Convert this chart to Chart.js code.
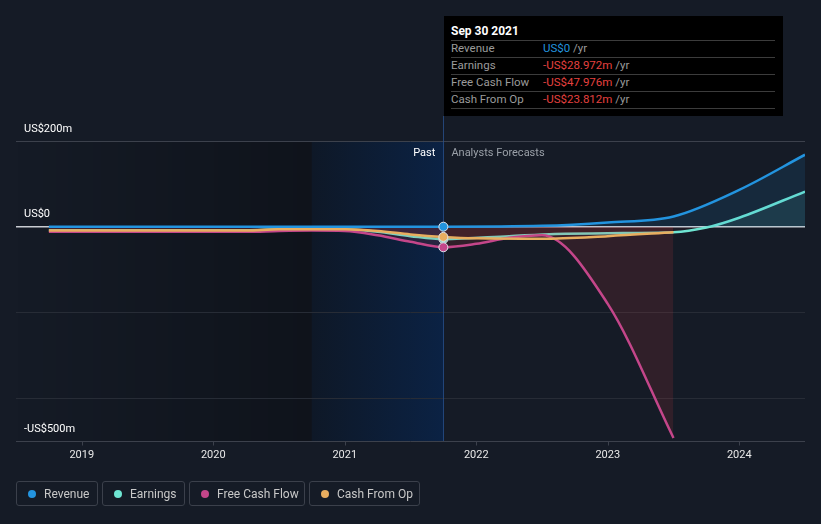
<!DOCTYPE html>
<html>
<head>
<meta charset="utf-8">
<script src="https://cdn.jsdelivr.net/npm/chart.js@4"></script>
<style>
  html, body { margin:0; padding:0; background:#151b26; }
  #wrap { position:relative; width:821px; height:524px; overflow:hidden; background:#151b26; font-family: Roboto, "Noto Sans", sans-serif; }
  canvas { position:absolute; left:0; top:0; }
  .tip { position:absolute; left:444px; top:16px; width:339px; height:100px; background:#000; }
  .tip .t { position:absolute; left:7px; top:6px; color:#fff; font-weight:bold; font-size:12px; line-height:18px; }
  .tip .sep { position:absolute; left:7px; width:324px; height:1px; background:#3c3c3c; }
  .tip .lab { position:absolute; left:7px; color:#9b9b9b; font-size:11.5px; line-height:16px; }
  .tip .val { position:absolute; left:99px; font-size:11.5px; line-height:16px; color:#9b9b9b; white-space:nowrap; }
  .pos { color:#2394df; } .neg { color:#e5413f; }
  .lg { position:absolute; top:481px; height:25px; border:1px solid #3b404b; border-radius:3px; box-sizing:border-box; }
  .lg .d { position:absolute; left:11px; top:8px; width:8px; height:8px; border-radius:50%; }
  .lg .x { position:absolute; left:27px; top:0; line-height:24px; font-size:12px; color:#c8c8c8; white-space:nowrap; }
</style>
</head>
<body>
<div id="wrap">
  <canvas id="c" width="821" height="524"></canvas>
  <div class="tip" id="tip"></div>
  <div id="legend"></div>
</div>
<script>
// ---------- data (US$ millions) ----------
const seriesNames = ["Revenue", "Earnings", "Free Cash Flow", "Cash From Op"];
const seriesColors = ["#2394df", "#6ee5d2", "#c4468a", "#e8ad5f"];

const revenueX = [2018.75,2019.0,2019.25,2019.5,2019.75,2020.0,2020.25,2020.5,2020.75,2021.0,2021.25,2021.5,2021.75,2022.5,2023.0,2023.5,2024.0,2024.5];
const revenueY = [0,0,0,0,0,0,0,0,0,0,0,0,0,2,10,24,86,168];

const earningsX = [2018.75,2019.0,2019.25,2019.5,2019.75,2020.0,2020.25,2020.5,2020.75,2021.0,2021.25,2021.5,2021.75,2022.25,2022.6,2023.0,2023.5,2023.75,2024.0,2024.5];
const earningsY = [-8,-8,-8,-8,-8,-8,-8,-6,-6,-6,-12,-22,-28.972,-22,-17,-15,-13,-2,21,82];

const fcfX = [2018.75,2019.0,2019.25,2019.5,2019.75,2020.0,2020.25,2020.5,2020.75,2021.0,2021.25,2021.5,2021.75,2022.0,2022.25,2022.5,2023.0,2023.5];
const fcfY = [-12,-12,-12,-12,-12,-12,-12,-10,-9,-10,-20,-35,-47.976,-40,-26,-20,-180,-493];

const cfoX = [2018.75,2019.0,2019.25,2019.5,2019.75,2020.0,2020.25,2020.5,2020.75,2021.0,2021.25,2021.5,2021.75,2022.0,2022.5,2023.0,2023.5];
const cfoY = [-9,-9,-9,-9,-9,-9,-9,-6,-6,-6,-10,-18,-23.812,-27,-28,-22,-13];

const yearTicks = [2019, 2020, 2021, 2022, 2023, 2024];
const yGrid = [200, -200, -400];
const yLabels = [[200, "US$200m"], [0, "US$0"], [-500, "-US$500m"]];
const markerX = 2021.75;      // Sep 30 2021
const lastYearStart = 2020.75;

const tipTitle = "Sep 30 2021";
const tipRows = [
  ["Revenue", "US$0", "pos"],
  ["Earnings", "-US$28.972m", "neg"],
  ["Free Cash Flow", "-US$47.976m", "neg"],
  ["Cash From Op", "-US$23.812m", "neg"]
];
const legendBoxes = [[16, 82], [102, 83], [189, 116], [309, 111]];

// ---------- helpers ----------
const pts = (xs, ys) => xs.map((x, i) => ({ x, y: ys[i] }));
const red = a => `rgba(230,65,65,${a})`;

function ds(i, xs, ys, above, below) {
  return {
    label: seriesNames[i],
    data: pts(xs, ys),
    borderColor: seriesColors[i],
    borderWidth: 2.5,
    cubicInterpolationMode: 'monotone',
    fill: { target: 'origin', above, below },
    pointRadius: c => (c.raw && c.raw.x === markerX) ? 4.5 : 0,
    pointBackgroundColor: seriesColors[i],
    pointBorderColor: '#dfe3ea',
    pointBorderWidth: 1,
    pointHoverRadius: 0
  };
}

const bgPlugin = {
  id: 'bg',
  beforeDatasetsDraw(chart) {
    const { ctx, chartArea: a, scales: { x, y } } = chart;
    ctx.save();
    const xs = x.getPixelForValue(lastYearStart), xm = x.getPixelForValue(markerX);
    let g = ctx.createLinearGradient(a.left, 0, xs, 0);
    g.addColorStop(0, 'rgba(0,0,0,0)'); g.addColorStop(1, 'rgba(0,0,0,0.28)');
    ctx.fillStyle = g; ctx.fillRect(a.left, a.top, xs - a.left, a.bottom - a.top);
    g = ctx.createLinearGradient(xs, 0, xm, 0);
    g.addColorStop(0, '#0e1827'); g.addColorStop(1, '#0b2244');
    ctx.fillStyle = g; ctx.fillRect(xs, a.top, xm - xs, a.bottom - a.top);
    // grid
    ctx.lineWidth = 1;
    yGrid.forEach(v => {
      const py = Math.round(y.getPixelForValue(v)) + 0.5;
      ctx.strokeStyle = v === 200 ? '#3c414c' : '#272c36';
      ctx.beginPath(); ctx.moveTo(a.left, py); ctx.lineTo(a.right, py); ctx.stroke();
    });
    // bottom axis + ticks
    const pb = Math.round(y.getPixelForValue(-500)) + 0.5;
    ctx.strokeStyle = '#3c414c';
    ctx.beginPath(); ctx.moveTo(a.left, pb); ctx.lineTo(a.right, pb); ctx.stroke();
    yearTicks.forEach(t => {
      const px = Math.round(x.getPixelForValue(t)) + 0.5;
      ctx.beginPath(); ctx.moveTo(px, pb); ctx.lineTo(px, pb + 4); ctx.stroke();
    });
    // zero line
    const p0 = y.getPixelForValue(0);
    ctx.strokeStyle = '#c9ccd2'; ctx.lineWidth = 1.5;
    ctx.beginPath(); ctx.moveTo(a.left, p0); ctx.lineTo(a.right, p0); ctx.stroke();
    // marker line
    ctx.strokeStyle = 'rgba(40,80,140,0.8)'; ctx.lineWidth = 1;
    ctx.beginPath(); ctx.moveTo(Math.round(xm) + 0.5, 116); ctx.lineTo(Math.round(xm) + 0.5, a.bottom); ctx.stroke();
    ctx.restore();
  },
  afterDatasetsDraw(chart) {
    const { ctx, chartArea: a, scales: { x, y } } = chart;
    ctx.save();
    ctx.font = '11px Roboto, "Noto Sans", sans-serif';
    ctx.textBaseline = 'middle';
    ctx.fillStyle = '#ffffff'; ctx.textAlign = 'left';
    yLabels.forEach(([v, s]) => ctx.fillText(s, 24, y.getPixelForValue(v) - 12));
    ctx.textAlign = 'center'; ctx.fillStyle = '#e8e8e8';
    yearTicks.forEach(t => ctx.fillText(String(t), x.getPixelForValue(t), 455));
    const xm = x.getPixelForValue(markerX);
    ctx.textAlign = 'right'; ctx.fillStyle = '#ffffff';
    ctx.fillText('Past', xm - 8, a.top + 12);
    ctx.textAlign = 'left'; ctx.fillStyle = '#9aa0a8';
    ctx.fillText('Analysts Forecasts', xm + 8, a.top + 12);
    ctx.restore();
  }
};

new Chart(document.getElementById('c'), {
  type: 'line',
  data: {
    datasets: [
      ds(0, revenueX, revenueY, 'rgba(35,148,223,0.12)', 'rgba(0,0,0,0)'),
      ds(3, cfoX, cfoY, 'rgba(232,173,95,0.08)', red(0.05)),
      ds(2, fcfX, fcfY, 'rgba(196,70,138,0.1)', red(0.13)),
      ds(1, earningsX, earningsY, 'rgba(110,229,210,0.1)', red(0.05))
    ]
  },
  options: {
    responsive: false, animation: false, devicePixelRatio: 1,
    layout: { padding: { left: 16, right: 16, top: 141, bottom: 83 } },
    scales: {
      x: { type: 'linear', min: 2018.5, max: 2024.5, display: false },
      y: { min: -500, max: 200, display: false }
    },
    plugins: { legend: { display: false }, tooltip: { enabled: false } },
    events: []
  },
  plugins: [bgPlugin]
});

// tooltip (HTML)
const tip = document.getElementById('tip');
let html = `<div class="t">${tipTitle}</div>`;
[24, 41, 58, 75, 92].forEach(t => html += `<div class="sep" style="top:${t}px"></div>`);
tipRows.forEach((r, i) => {
  const top = 24 + i * 17;
  html += `<div class="lab" style="top:${top}px">${r[0]}</div>`;
  html += `<div class="val" style="top:${top}px"><span class="${r[2]}">${r[1]}</span> /yr</div>`;
});
tip.innerHTML = html;

// legend (HTML)
const lg = document.getElementById('legend');
legendBoxes.forEach(([l, w], i) => {
  const d = document.createElement('div');
  d.className = 'lg'; d.style.left = l + 'px'; d.style.width = w + 'px';
  d.innerHTML = `<span class="d" style="background:${seriesColors[i]}"></span><span class="x">${seriesNames[i]}</span>`;
  lg.appendChild(d);
});
</script>
</body>
</html>
